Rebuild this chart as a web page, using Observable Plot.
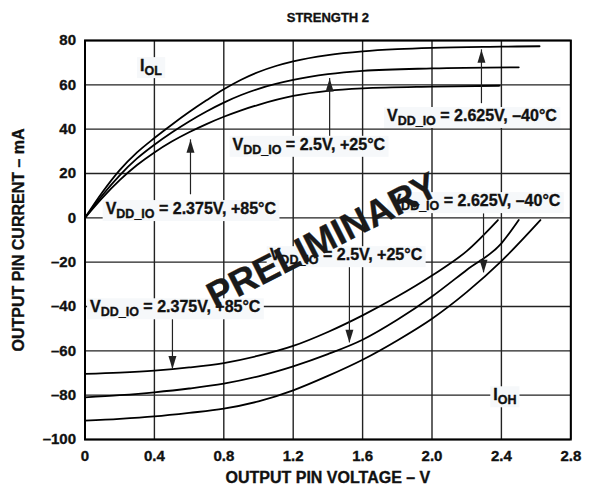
<!DOCTYPE html>
<html><head><meta charset="utf-8">
<script src="https://cdn.jsdelivr.net/npm/d3@7"></script>
<script src="https://cdn.jsdelivr.net/npm/@observablehq/plot@0.6"></script>
<style>
body{margin:0;background:#fff;}
#chart svg{display:block;}
#chart svg text{font-weight:700 !important; stroke:#111; stroke-width:0.35px;}
</style></head><body><div id="chart"></div>
<script>
const title = "STRENGTH 2";
const xLabel = "OUTPUT PIN VOLTAGE – V";
const yLabel = "OUTPUT PIN CURRENT – mA";
const xTicks = [0, 0.4, 0.8, 1.2, 1.6, 2.0, 2.4, 2.8];
const yTicks = [-100, -80, -60, -40, -20, 0, 20, 40, 60, 80];

// I_OL curves (sink current)
const vIol2625 = [0, 0.1, 0.2, 0.3, 0.4, 0.5, 0.6, 0.7, 0.8, 0.9, 1.0, 1.1, 1.2, 1.4, 1.6, 1.8, 2.0, 2.4, 2.62];
const iIol2625 = [0, 11.5, 21.5, 29.5, 36, 42, 47.7, 53, 58, 62.3, 65.8, 68.5, 70.6, 73.4, 75.1, 76.1, 76.7, 77.2, 77.4];
const vIol250 = [0, 0.1, 0.2, 0.3, 0.4, 0.5, 0.6, 0.7, 0.8, 0.9, 1.0, 1.2, 1.4, 1.6, 2.0, 2.5];
const iIol250 = [0, 10.2, 19.2, 26.8, 33, 38.5, 43.5, 48, 52, 55.4, 58.2, 62.2, 64.8, 66.3, 67.4, 67.9];
const vIol2375 = [0, 0.1, 0.2, 0.3, 0.4, 0.5, 0.6, 0.7, 0.8, 0.9, 1.0, 1.2, 1.4, 1.6, 2.0, 2.39];
const iIol2375 = [0, 9, 17, 23.8, 29.5, 34.4, 38.6, 42.3, 45.6, 48.5, 51, 55, 57.3, 58.4, 59.2, 59.6];

// I_OH curves (source current)
const vIoh2375 = [0, 0.2, 0.4, 0.6, 0.8, 1.0, 1.2, 1.4, 1.6, 1.8, 2.0, 2.2, 2.38];
const iIoh2375 = [-70.4, -69.8, -68.9, -67.5, -65.5, -62.2, -57.8, -51.5, -44, -35.5, -26, -15, -1];
const vIoh250 = [0, 0.2, 0.4, 0.6, 0.8, 1.0, 1.2, 1.4, 1.6, 1.8, 2.0, 2.2, 2.4, 2.5];
const iIoh250 = [-81, -80, -78.7, -77, -74.8, -71.5, -67, -61.5, -55, -46, -35.5, -23.5, -11.5, -1];
const vIoh2625 = [0, 0.2, 0.4, 0.6, 0.8, 1.0, 1.2, 1.4, 1.6, 1.8, 2.0, 2.2, 2.4, 2.625];
const iIoh2625 = [-91.5, -90.7, -89.6, -88, -86.1, -82.8, -77.8, -71.3, -64, -55.3, -45.5, -33.5, -19.5, -1];

// annotations
const labelText = ["I{OL}", "I{OH}",
  "V{DD_IO} = 2.625V, –40°C", "V{DD_IO} = 2.5V, +25°C", "V{DD_IO} = 2.375V, +85°C",
  "V{DD_IO} = 2.625V, –40°C", "V{DD_IO} = 2.5V, +25°C", "V{DD_IO} = 2.375V, +85°C"];
const labelX = [0.38, 2.42, 2.23, 1.29, 0.61, 2.25, 1.504, 0.52];
const labelY = [68.5, -80, 46, 33, 4, 7.6, -16.8, -40.3];

const arrowX = [2.285, 1.41, 0.608, 2.297, 1.524, 0.504];
const arrowFrom = [51.5, 36.6, 10.4, 1.8, -21.7, -45.6];
const arrowTo = [75.8, 62.9, 35.2, -24.8, -56.4, -68.2];

const watermark = "PRELIMINARY";
const wmX = 1.37, wmY = -10.4, wmAngle = -27;

const curves = [
  [vIol2625, iIol2625], [vIol250, iIol250], [vIol2375, iIol2375],
  [vIoh2375, iIoh2375], [vIoh250, iIoh250], [vIoh2625, iIoh2625]
];
const rows = curves.flatMap(([vs, is], k) => vs.map((v, j) => ({curve: k, v, i: is[j]})));
const labels = labelText.map((t, k) => ({t, x: labelX[k], y: labelY[k]}));
const arrows = arrowX.map((x, k) => ({x, from: arrowFrom[k], to: arrowTo[k]}));
const upArrows = arrows.filter(d => d.to > d.from);
const downArrows = arrows.filter(d => d.to < d.from);

const headUp = {draw(ctx) { ctx.moveTo(0, 0); ctx.lineTo(4, 13); ctx.lineTo(-4, 13); ctx.closePath(); }};
const headDown = {draw(ctx) { ctx.moveTo(0, 0); ctx.lineTo(4, -13); ctx.lineTo(-4, -13); ctx.closePath(); }};

const font = "'Liberation Sans', Arial, Helvetica, sans-serif";

const plot = Plot.plot({
  width: 590, height: 486,
  marginLeft: 84.5, marginRight: 19.7, marginTop: 40, marginBottom: 47,
  style: {fontFamily: font, fontWeight: "bold", fontSize: "14px", color: "#111", background: "#fff"},
  x: {domain: [0, 2.8]},
  y: {domain: [-100, 80]},
  marks: [
    Plot.gridX(xTicks, {stroke: "#222", strokeOpacity: 1, strokeWidth: 1.4}),
    Plot.gridY(yTicks, {stroke: "#222", strokeOpacity: 1, strokeWidth: 1.4}),
    Plot.axisX(xTicks, {tickSize: 0, tickPadding: 11, fontSize: 15, fontWeight: "bold", fill: "#111", label: null,
      tickFormat: d => d === 0 ? "0" : d.toFixed(1)}),
    Plot.axisY(yTicks, {tickSize: 0, tickPadding: 9, fontSize: 15, fontWeight: "bold", fill: "#111", label: null,
      tickFormat: d => d < 0 ? "–" + (-d) : String(d)}),
    Plot.line(rows, {x: "v", y: "i", z: "curve", stroke: "#000", strokeWidth: 1.8, curve: "monotone-x"}),
    Plot.ruleX(arrows, {x: "x", y1: "from", y2: "to", stroke: "#222", strokeWidth: 1.2}),
    Plot.dot(upArrows, {x: "x", y: "to", symbol: headUp, fill: "#222", stroke: "none"}),
    Plot.dot(downArrows, {x: "x", y: "to", symbol: headDown, fill: "#222", stroke: "none"}),
    Plot.frame({stroke: "#000", strokeWidth: 2}),
    Plot.text(labels, {x: "x", y: "y", text: "t", fontSize: 16, fontWeight: "bold", fill: "#111", className: "vlabel"}),
    Plot.text([watermark], {x: () => wmX, y: () => wmY, rotate: wmAngle, fontSize: 37, fontWeight: "bold", fill: "#1a1a1a"}),
    Plot.text([title], {frameAnchor: "top", dy: -23, lineAnchor: "middle", textAnchor: "middle", fontSize: 13, fontWeight: "bold", fill: "#111"}),
    Plot.text([xLabel], {frameAnchor: "bottom", dy: 38, lineAnchor: "middle", textAnchor: "middle", fontSize: 16, fontWeight: "bold", fill: "#111"}),
    Plot.text([yLabel], {frameAnchor: "left", dx: -66, rotate: -90, lineAnchor: "middle", textAnchor: "middle", fontSize: 16, fontWeight: "bold", fill: "#111"})
  ]
});
document.getElementById("chart").append(plot);

const ns = "http://www.w3.org/2000/svg";
plot.querySelectorAll("g.vlabel text").forEach(t => {
  const m = t.textContent.match(/^(.)\{([^}]*)\}(.*)$/);
  if (!m) return;
  t.textContent = "";
  const a = document.createElementNS(ns, "tspan"); a.textContent = m[1]; t.append(a);
  const b = document.createElementNS(ns, "tspan"); b.textContent = m[2];
  b.setAttribute("dy", "4"); b.setAttribute("font-size", "12.5"); t.append(b);
  if (m[3]) {
    const c = document.createElementNS(ns, "tspan"); c.textContent = m[3];
    c.setAttribute("dy", "-4"); t.append(c);
  }
  const bb = t.getBBox();
  const r = document.createElementNS(ns, "rect");
  r.setAttribute("x", bb.x - 3); r.setAttribute("y", bb.y);
  r.setAttribute("width", bb.width + 6); r.setAttribute("height", bb.height);
  r.setAttribute("fill", "#f6f8fa");
  if (t.getAttribute("transform")) r.setAttribute("transform", t.getAttribute("transform"));
  t.parentNode.insertBefore(r, t);
});
</script>
</body></html>
